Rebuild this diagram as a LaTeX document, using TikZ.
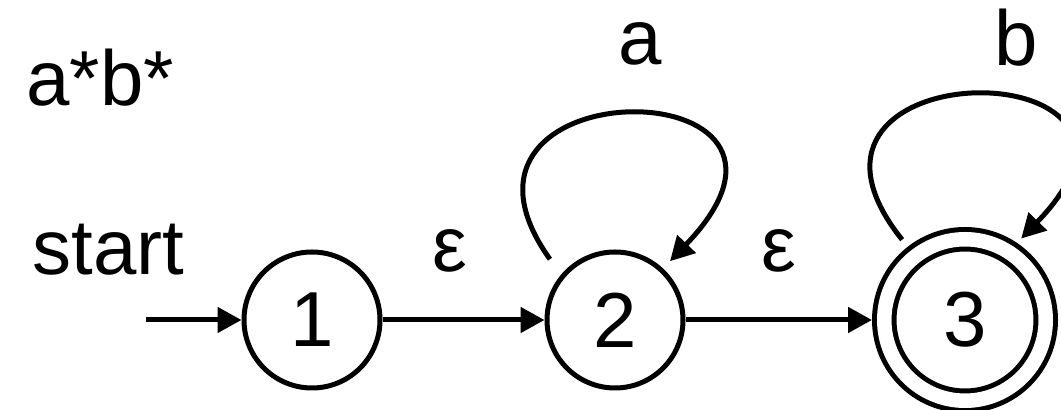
\documentclass[tikz,border=0pt]{standalone}
\usepackage{fontspec}
\setmainfont{Liberation Sans}
\usetikzlibrary{arrows.meta,positioning}

\begin{document}
\begin{tikzpicture}[
  x=0.5pt, y=-0.5pt,
  every node/.style={font=\fontsize{39pt}{47pt}\selectfont, inner sep=0pt},
  state/.style={draw, circle, line width=2.5pt, minimum size=68pt},
  accept/.style={draw, circle, line width=2.5pt, double, double distance=7.25pt,
                 minimum size=80.75pt, outer sep=6.125pt},
  arr/.style={-{Triangle[length=12pt,width=12.5pt]}, line width=2.5pt},
  selfloop/.style={arr, shorten <=9.5pt, shorten >=5pt}
]
\useasboundingbox (0,0) rectangle (1061,410);
\node[anchor=base west] (expr) at (26,106) {a*b*};
\node[state] (n1) at (312,320) {1};
\node[state, right=81pt of n1] (n2) {2};
\node[accept, right=93.25pt of n2] (n3) {3};
\coordinate[left=47.75pt of n1] (init);
\node[anchor=base west] (startlbl) at (32,275) {start};

\draw[arr] (init) -- (n1);
\draw[arr] (n1) -- node[above=22.5pt, xshift=-7pt] {ε} (n2);
\draw[arr] (n2) -- node[above=22.5pt] {ε} (n3);
\draw[selfloop] (n2.140) .. controls +(-150,-210) and +(195,-203)
  .. node[above=24.5pt, xshift=5.5pt] {a} (n2.47);
\draw[selfloop, shorten <=4.5pt, shorten >=3pt] (n3.128)
  .. controls +(-160,-200) and +(190,-196)
  .. node[above=14pt, xshift=21.5pt] {b} (n3.56);
\end{tikzpicture}
\end{document}
